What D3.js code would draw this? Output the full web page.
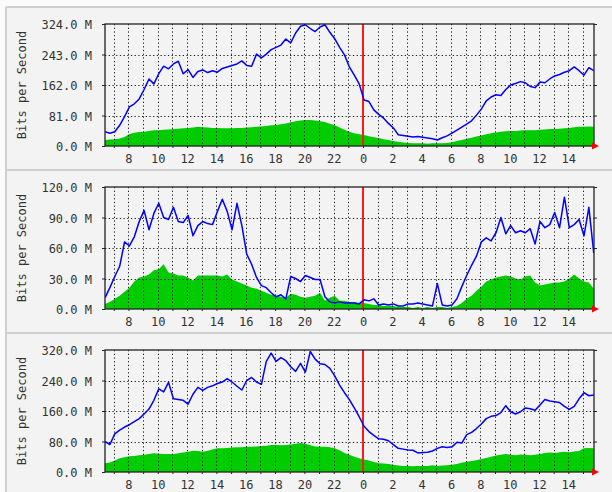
<!DOCTYPE html>
<html><head><meta charset="utf-8">
<script src="https://cdn.jsdelivr.net/npm/d3@7"></script>
<style>
body{margin:0;background:#fff}
text{font-family:"DejaVu Sans Mono",monospace;font-size:12px;fill:#333}
</style>
</head><body><svg id="c" width="612" height="492"></svg>
<script>
// time axis: hours since previous midnight; samples every 20 minutes
const startHour = 6.4, stepHour = 1/3, endHour = 39.75;
const gridHours = d3.range(7, 40);
const labelHours = d3.range(8, 40, 2);
const nowHour = 24;

// Panel 1
const out1 = [38,34,38,55,78,104,112,125,150,178,165,192,212,205,218,225,192,203,182,198,
202,195,200,196,206,210,214,218,226,214,212,244,234,244,256,262,268,284,274,300,
318,322,312,304,316,322,302,285,262,242,210,188,165,122,118,96,84,74,60,48,
30,28,26,24,25,23,21,19,16,22,27,34,42,50,58,67,82,98,120,130,
136,134,150,162,166,171,168,158,155,170,168,178,186,190,196,200,210,200,188,208,200];
const in1 = [16,17,18,20,24,32,35,37,38,40,42,42,43,44,45,46,47,48,49,51,
50,49,48,48,47,47,47,48,48,49,50,51,52,53,55,56,58,60,63,66,
68,69,69,68,66,64,59,55,49,43,38,34,31,29,26,23,21,18,16,13,
11,9,8,7,7,7,6,7,7,7,8,10,13,16,19,22,25,28,31,34,
36,38,39,40,40,41,42,42,42,43,44,45,45,46,47,48,50,51,51,52,51];
const yTicks1 = [0,81,162,243,324];

// Panel 2
const out2 = [11,21,32,42,66,62,71,86,97,78,94,104,90,88,100,86,85,92,72,82,
86,84,83,96,108,96,78,104,82,54,44,31,23,21,16,12,14,10,32,30,
27,33,31,29,29,12,7,6,7,6,6,6,5,9,8,10,4,5,4,5,
3,3,5,5,6,5,4,3,25,4,3,4,10,22,33,43,52,66,70,67,
75,90,74,82,75,77,75,79,64,86,80,83,95,80,110,80,83,88,72,100,55];
const in2 = [5,7,10,13,17,21,27,31,32,34,38,39,44,36,35,33,33,31,28,33,
33,33,33,33,32,34,29,27,25,23,21,20,18,16,14,13,12,11,15,14,
12,11,12,13,16,8,11,13,8,8,7,7,6,6,5,4,4,3,3,3,
2,2,2,1,2,1,2,1,2,2,1,2,3,6,10,13,18,22,27,29,
31,32,33,32,30,29,32,33,26,23,24,25,26,26,27,30,34,30,27,26,20];
const yTicks2 = [0,30,60,90,120];

// Panel 3
const out3 = [80,72,100,110,118,124,132,140,152,165,188,218,210,235,192,190,188,178,204,222,
214,222,226,232,236,245,236,225,215,240,248,236,230,290,312,290,300,292,276,264,
285,262,316,296,284,282,272,252,228,208,190,168,145,120,106,96,87,86,82,72,
62,60,58,57,50,51,52,55,62,66,64,66,78,76,98,104,114,126,140,146,
148,156,174,158,152,158,168,166,162,176,190,186,184,182,172,164,172,192,208,200,202];
const in3 = [23,25,30,36,39,41,42,44,45,47,49,48,47,47,47,49,51,53,56,55,
53,56,59,62,62,63,64,65,65,66,66,67,68,69,71,71,70,71,72,74,
76,74,70,67,66,66,65,62,57,50,45,40,36,33,30,26,23,22,21,19,
17,16,16,15,16,16,16,18,16,17,18,19,21,24,27,29,31,34,37,40,
43,45,47,45,44,46,45,44,45,47,50,51,50,52,53,52,54,55,62,63,62];
const yTicks3 = [0,80,160,240,320];

const panels = [
  {out: out1, inn: in1, ticks: yTicks1},
  {out: out2, inn: in2, ticks: yTicks2},
  {out: out3, inn: in3, ticks: yTicks3}
];

const svg = d3.select("#c");
const W = 612, H = 492;
const plotL = 105, plotR = 594, plotH = 122;
const panelTops = [7, 170, 333];
const plotOffset = 17;

// page background
svg.append("rect").attr("x",0).attr("y",0).attr("width",W).attr("height",H).attr("fill","#fbfbfb");
svg.append("rect").attr("x",6).attr("y",7).attr("width",W-6).attr("height",H-7).attr("fill","#f3f3f3");
svg.append("line").attr("x1",6).attr("x2",6).attr("y1",7).attr("y2",H).attr("stroke","#cfcfcf").attr("stroke-width",2);
panelTops.forEach(t => {
  svg.append("line").attr("x1",6).attr("x2",W).attr("y1",t).attr("y2",t).attr("stroke","#cfcfcf").attr("stroke-width",2);
});

const x = d3.scaleLinear().domain([startHour, endHour]).range([plotL, plotR]);
const tOf = i => startHour + i*stepHour;

panels.forEach((p, k) => {
  const top = panelTops[k] + plotOffset, bot = top + plotH;
  const y = d3.scaleLinear().domain([0, p.ticks[p.ticks.length-1]]).range([bot, top]);
  const g = svg.append("g");

  const cid = "clip"+k;
  svg.append("clipPath").attr("id",cid).append("rect")
    .attr("x",plotL).attr("y",top).attr("width",plotR-plotL).attr("height",plotH);

  // green incoming area
  const area = d3.area().x((d,i)=>x(tOf(i))).y0(y(0)).y1(d=>y(d));
  g.append("path").datum(p.inn).attr("d",area).attr("fill","#00cc00").attr("clip-path",`url(#${cid})`);

  // grid
  const grid = g.append("g").attr("stroke","#222").attr("stroke-width",1).attr("stroke-dasharray","1.3,2.4");
  gridHours.filter(h=>h!==nowHour).forEach(h=>{
    grid.append("line").attr("x1",Math.round(x(h))+0.5).attr("x2",Math.round(x(h))+0.5)
      .attr("y1",top).attr("y2",bot);
  });
  p.ticks.slice(1,-1).forEach(v=>{
    grid.append("line").attr("x1",plotL).attr("x2",plotR)
      .attr("y1",Math.round(y(v))+0.5).attr("y2",Math.round(y(v))+0.5);
  });

  // red "now" line
  g.append("line").attr("x1",Math.round(x(nowHour))).attr("x2",Math.round(x(nowHour)))
    .attr("y1",top).attr("y2",bot).attr("stroke","#ff1a1a").attr("stroke-width",2);

  // blue outgoing line
  const line = d3.line().x((d,i)=>x(tOf(i))).y(d=>y(d));
  g.append("path").datum(p.out).attr("d",line).attr("fill","none")
    .attr("stroke","#0000ff").attr("stroke-width",1.5).attr("stroke-linejoin","round")
    .attr("clip-path",`url(#${cid})`);

  // frame
  g.append("rect").attr("x",plotL).attr("y",top).attr("width",plotR-plotL).attr("height",plotH)
    .attr("fill","none").attr("stroke","#222").attr("stroke-width",1.3);

  // y axis
  const ya = d3.axisLeft(y).tickValues(p.ticks).tickFormat(d=>d.toFixed(1)+" M")
    .tickSize(3).tickPadding(10).tickSizeOuter(0);
  const yg = g.append("g").attr("transform",`translate(${plotL},0)`).call(ya);
  yg.select(".domain").remove();
  yg.selectAll("line").attr("stroke","#222");
  yg.selectAll("text").attr("font-family",null).attr("font-size",null).attr("fill","#333").attr("dy","0.4em");
  // right ticks
  const yr = d3.axisRight(y).tickValues(p.ticks).tickFormat("").tickSize(3).tickSizeOuter(0);
  const yrg = g.append("g").attr("transform",`translate(${plotR},0)`).call(yr);
  yrg.select(".domain").remove();
  yrg.selectAll("line").attr("stroke","#222");

  // x axis
  const xa = d3.axisBottom(x).tickValues(gridHours)
    .tickFormat(h => labelHours.includes(h) ? String(h % 24) : "")
    .tickSize(2).tickPadding(6.5).tickSizeOuter(0);
  const xg = g.append("g").attr("transform",`translate(0,${bot})`).call(xa);
  xg.select(".domain").remove();
  xg.selectAll("line").attr("stroke","#222");
  xg.selectAll("text").attr("font-family",null).attr("font-size",null).attr("fill","#333");

  // y title
  g.append("text").attr("transform",`translate(26,${(top+bot)/2}) rotate(-90)`)
    .attr("text-anchor","middle").text("Bits per Second");

  // red arrow
  g.append("path").attr("d",`M${plotR-2},${bot-3.5}L${plotR+5},${bot}L${plotR-2},${bot+3.5}Z`).attr("fill","#ff0000");
});
</script></body></html>
